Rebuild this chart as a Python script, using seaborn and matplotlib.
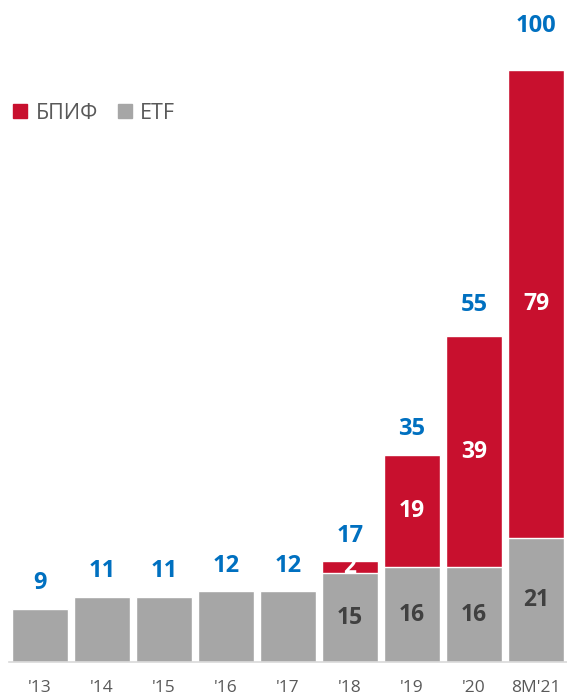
import numpy as np
import pandas as pd
import matplotlib
matplotlib.use("Agg")
import matplotlib.pyplot as plt
import seaborn as sns
from matplotlib.patches import Patch

# 📌 Datos
years = ["'13", "'14", "'15", "'16", "'17", "'18", "'19", "'20", "8M'21"]
etf = [9, 11, 11, 12, 12, 15, 16, 16, 21]
bpif = [0, 0, 0, 0, 0, 2, 19, 39, 79]

RED = "#C8102E"
GRAY = "#A6A6A6"
BLUE = "#0070C0"
DARK = "#404040"
TXT = "#595959"

# separación (pt) entre barra y etiqueta del total
label_gap = [14, 14, 14, 14, 14, 14, 14.5, 18, 27]

df = pd.DataFrame({"year": years, "etf": etf, "bpif": bpif})
df["total"] = df["etf"] + df["bpif"]

sns.set_style("white")
plt.rcParams["font.family"] = ["Open Sans", "DejaVu Sans"]

fig = plt.figure(figsize=(5.67, 6.97), dpi=100)
ax = fig.add_axes([9 / 567, 35 / 697, 558 / 567, 662 / 697])

# 📌 Barras apiladas: total en rojo, ETF encima en gris
sns.barplot(data=df, x="year", y="total", color=RED, width=0.9,
            edgecolor="white", linewidth=1, saturation=1, ax=ax)
sns.barplot(data=df, x="year", y="etf", color=GRAY, width=0.9,
            edgecolor="white", linewidth=1, saturation=1, ax=ax)

ax.set_xlim(-0.5, len(years) - 0.5)
ax.set_ylim(0, 111.8)
ax.set_xlabel("")
ax.set_ylabel("")
ax.set_yticks([])
for s in ["top", "right", "left"]:
    ax.spines[s].set_visible(False)
ax.spines["bottom"].set_color("#D9D9D9")
ax.spines["bottom"].set_linewidth(1.2)

ax.tick_params(axis="x", which="major", length=0, labelsize=12.5,
               labelcolor=TXT, pad=13)
ax.set_xticks(np.arange(-0.5, len(years)), minor=True)
ax.tick_params(axis="x", which="minor", length=5, color="#D9D9D9", width=1.2)

# 📌 Etiquetas
for i, row in df.iterrows():
    ax.annotate(f"{row['total']}", (i, row["total"]), xytext=(0, label_gap[i]),
                textcoords="offset points", ha="center", va="baseline",
                fontsize=17, fontweight="bold", color=BLUE)
    if row["bpif"] > 0:
        ax.text(i, row["etf"] / 2, f"{row['etf']}", ha="center", va="center",
                fontsize=16.5, fontweight="bold", color=DARK)
        ax.text(i, row["etf"] + row["bpif"] / 2, f"{row['bpif']}", ha="center",
                va="center", fontsize=16.5, fontweight="bold", color="white")

handles = [Patch(color=RED, label="БПИФ"), Patch(color=GRAY, label="ETF")]
leg = ax.legend(handles=handles, loc="center left", bbox_to_anchor=(0.0, 0.829),
                ncol=2, frameon=False, handlelength=0.65, handleheight=0.65,
                handletextpad=0.4, columnspacing=0.9, fontsize=15.5,
                borderaxespad=0, borderpad=0.2)
for t in leg.get_texts():
    t.set_color(TXT)

fig.savefig("out.png", dpi=100)
